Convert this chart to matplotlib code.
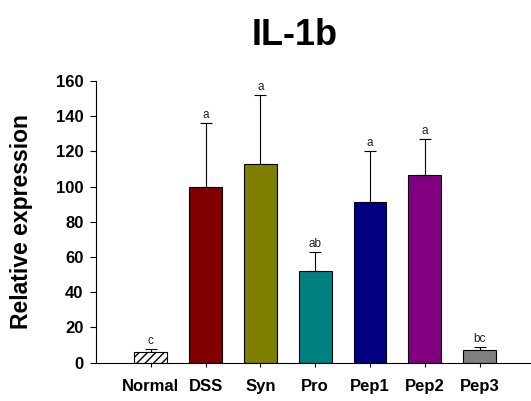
import matplotlib
matplotlib.use("Agg")
import matplotlib.pyplot as plt

groups = ["Normal", "DSS", "Syn", "Pro", "Pep1", "Pep2", "Pep3"]
means = [5.9, 100.0, 112.9, 51.9, 91.0, 106.3, 7.4]
errors = [2.0, 36.2, 38.8, 10.7, 29.1, 20.4, 1.5]
letters = ["c", "a", "a", "ab", "a", "a", "bc"]
colors = ["white", "#800000", "#808000", "#008080", "#000080", "#800080", "#808080"]

plt.rcParams["font.family"] = ["Liberation Sans", "DejaVu Sans"]

fig = plt.figure(figsize=(5.31, 4.01), dpi=100)
ax = fig.add_axes([0.181, 0.0955, 0.817, 0.703])

x = range(len(groups))
bars = ax.bar(x, means, width=0.6, color=colors, edgecolor="black", linewidth=0.8, zorder=2)
bars[0].set_hatch("////")
ax.errorbar(x, means, yerr=[[0] * len(errors), errors], fmt="none", ecolor="black",
            elinewidth=0.8, capsize=4.5, capthick=0.8, zorder=1)

for xi, m, e, lab in zip(x, means, errors, letters):
    ax.annotate(lab, (xi, m + e), xytext=(0, 1.5), textcoords="offset points",
                ha="center", va="bottom", fontsize=8.5, color="#222222")

ax.set_xlim(-1.0, 6.92)
ax.set_ylim(0, 160)
ax.set_yticks(range(0, 161, 20))
ax.set_xticks(list(x))
ax.set_xticklabels(groups, fontsize=12, fontweight="bold")
for lab in ax.get_yticklabels():
    lab.set_fontweight("bold")
    lab.set_fontsize(12)
ax.tick_params(axis="both", direction="out", length=4, width=0.8)
ax.tick_params(axis="y", pad=5)
ax.tick_params(axis="x", length=3, pad=9)
ax.spines["top"].set_visible(False)
ax.spines["right"].set_visible(False)
ax.set_ylabel("Relative expression", fontsize=16.5, fontweight="bold", va="center")
ax.yaxis.set_label_coords(-0.171, 0.5)

fig.text(0.555, 0.912, "IL-1b", ha="center", va="center", fontsize=26, fontweight="bold")

fig.savefig("out.png", dpi=100)
